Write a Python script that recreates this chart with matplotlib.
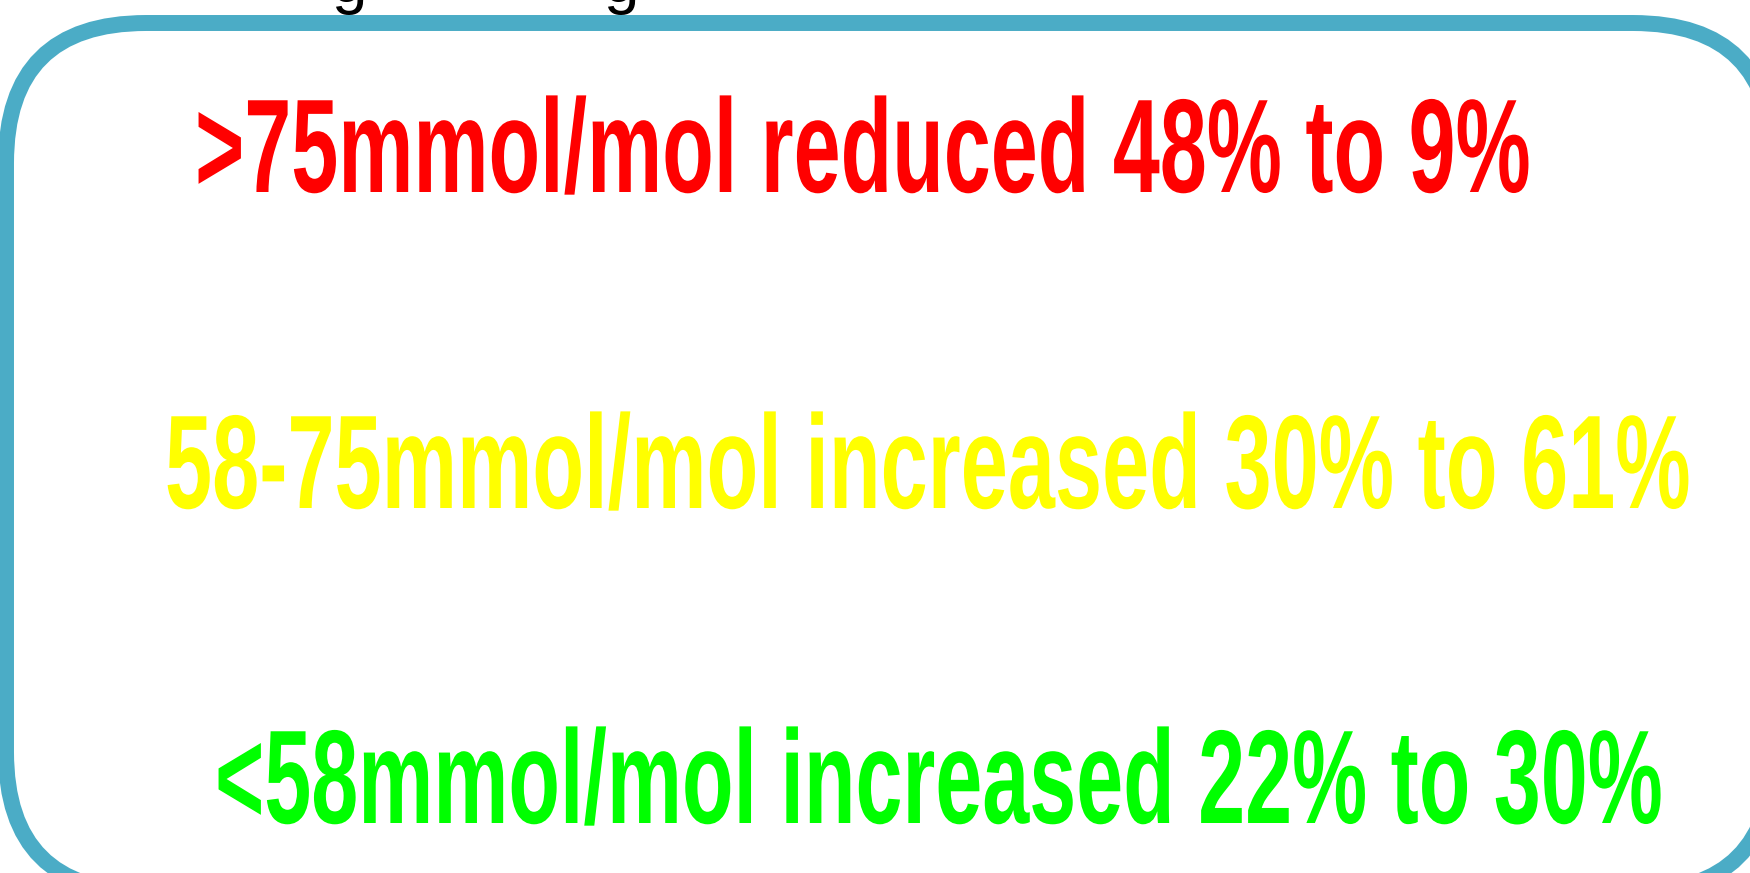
import matplotlib.pyplot as plt
from matplotlib.patches import FancyBboxPatch
from matplotlib.patheffects import AbstractPathEffect
from matplotlib.transforms import Affine2D

# HbA1c bands and change in proportion of patients (%)
bands = ['>75', '58-75', '<58']
changes = ['reduced', 'increased', 'increased']
before = [48, 30, 22]
after = [9, 61, 30]
colours = ['#FF0000', '#FFFF00', '#00FF00']


class Squeeze(AbstractPathEffect):
    """Narrow the glyphs horizontally around x0 (display pixels)."""

    def __init__(self, sx, x0):
        super().__init__()
        self.sx = sx
        self.x0 = x0

    def draw_path(self, renderer, gc, tpath, affine, rgbFace=None):
        t = affine + Affine2D().translate(-self.x0, 0).scale(self.sx, 1).translate(self.x0, 0)
        renderer.draw_path(gc, tpath, t, rgbFace)


W, H = 1750, 873
fig = plt.figure(figsize=(W / 100, H / 100), dpi=100)
ax = fig.add_axes([0, 0, 1, 1])
ax.set_xlim(0, W)
ax.set_ylim(H, 0)
ax.axis('off')

# rounded frame, partly outside the picture
frame = FancyBboxPatch((6, 23), 1773 - 6, 892 - 23,
                       boxstyle='round,pad=0,rounding_size=140',
                       facecolor='white', edgecolor='#4BACC6', linewidth=11.5,
                       clip_on=False)
ax.add_patch(frame)

# clipped title above the frame (only descenders visible)
for gx in [331, 603]:
    ax.text(gx, 2, 'g', color='black', fontsize=46, family='Liberation Sans',
            ha='left', va='baseline')

xs = [195, 165, 215]
widths = [1336, 1526, 1448]
baselines = [192, 508, 823]
texts = []
for i in range(len(bands)):
    label = f'{bands[i]}mmol/mol {changes[i]} {before[i]}% to {after[i]}%'
    t = ax.text(xs[i], baselines[i], label, color=colours[i], fontsize=96,
                fontweight='bold', family='Liberation Sans',
                ha='left', va='baseline')
    texts.append(t)

fig.canvas.draw()
r = fig.canvas.get_renderer()
for i, t in enumerate(texts):
    bb = t.get_window_extent(r)
    x0 = ax.transData.transform((xs[i], 0))[0]
    t.set_path_effects([Squeeze(widths[i] / bb.width, x0)])

plt.savefig('out.png', dpi=100)
plt.close()
